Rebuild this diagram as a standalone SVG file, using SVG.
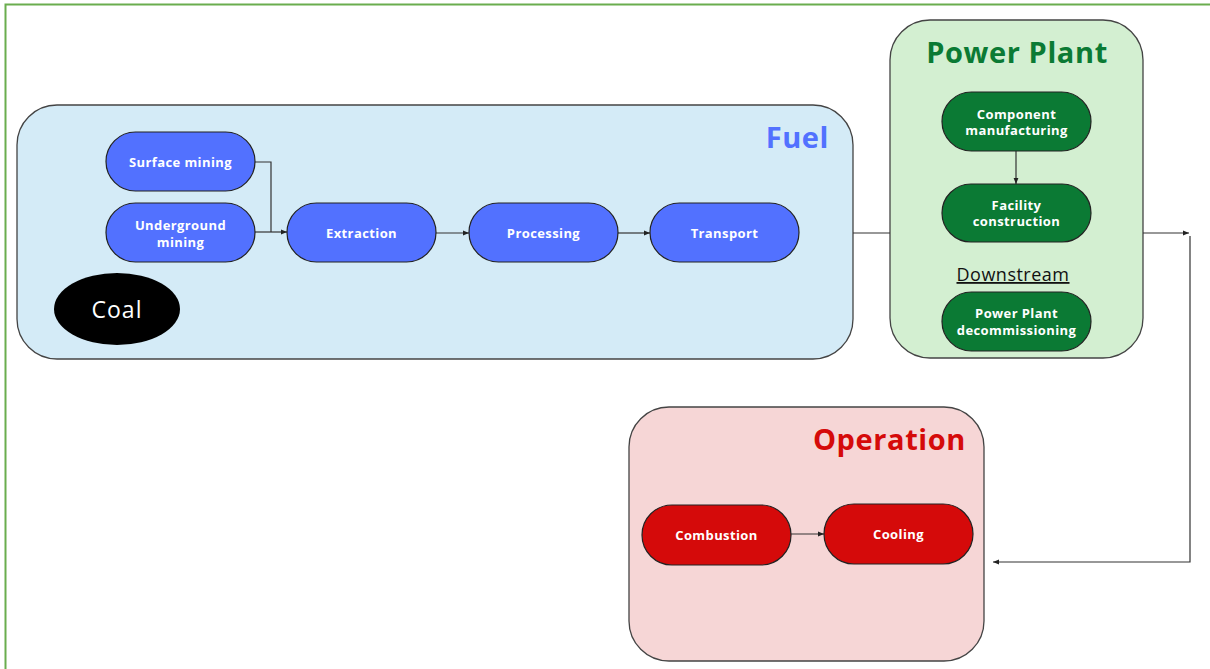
<svg xmlns="http://www.w3.org/2000/svg" width="1210" height="669" viewBox="0 0 1210 669">
<style>
.frame{fill:none;stroke:#6aad4f;stroke-width:2}
.cont{stroke:#444;stroke-width:1.3}
.node{stroke:#222;stroke-width:1.2}
.blue{fill:#5271ff}
.green{fill:#0b7a34}
.red{fill:#d50a0a}
.nt{font-family:"Open Sans","Liberation Sans",sans-serif;font-weight:700;font-size:13px;letter-spacing:0.4px;fill:#fff;text-anchor:middle}
.title{font-family:"Open Sans","Liberation Sans",sans-serif;font-weight:700;font-size:29px;letter-spacing:0.6px}
.conn{fill:none;stroke:#333;stroke-width:1.2}
</style>
<defs>
<marker id="ah" viewBox="0 0 10 10" refX="10" refY="5" markerWidth="6" markerHeight="6" orient="auto" markerUnits="userSpaceOnUse">
<path d="M0,1 L10,5 L0,9 z" fill="#222"/>
</marker>
</defs>
<rect class="frame" x="5.5" y="4.5" width="1230" height="700"/>

<g id="fuel-group">
<rect class="cont" x="17" y="105" width="836" height="254" rx="40" fill="#d4ebf7"/>
<text class="title" x="829" y="148" text-anchor="end" fill="#5271ff">Fuel</text>
</g>
<g id="power-plant-group">
<rect class="cont" x="890" y="20" width="253" height="338" rx="40" fill="#d3efd1"/>
<text class="title" x="1017" y="63" text-anchor="middle" fill="#0b7a34">Power Plant</text>
<text x="1013" y="281" text-anchor="middle" font-family="'Open Sans','Liberation Sans',sans-serif" font-size="18" letter-spacing="0.5" fill="#111" text-decoration="underline">Downstream</text>
</g>
<g id="operation-group">
<rect class="cont" x="629" y="407" width="355" height="254" rx="40" fill="#f6d6d6"/>
<text class="title" x="966" y="450" text-anchor="end" fill="#d50a0a">Operation</text>
</g>

<g id="connectors">
<polyline class="conn" points="255,162 271,162 271,232"/>
<line class="conn" x1="255" y1="232" x2="287" y2="232" marker-end="url(#ah)"/>
<line class="conn" x1="436" y1="233" x2="469" y2="233" marker-end="url(#ah)"/>
<line class="conn" x1="618" y1="233" x2="650" y2="233" marker-end="url(#ah)"/>
<line class="conn" x1="853" y1="233" x2="890" y2="233"/>
<line class="conn" x1="1016" y1="151" x2="1016" y2="184" marker-end="url(#ah)"/>
<line class="conn" x1="1143" y1="233" x2="1189" y2="233" marker-end="url(#ah)"/>
<polyline class="conn" points="1190,236 1190,562 993,562" marker-end="url(#ah)"/>
<line class="conn" x1="791" y1="534" x2="824" y2="534" marker-end="url(#ah)"/>
</g>

<g id="surface-mining">
<rect class="node blue" x="106" y="132" width="149" height="59" rx="29.5"/>
<text class="nt" x="180.5" y="166.5">Surface mining</text>
</g>
<g id="underground-mining">
<rect class="node blue" x="106" y="203" width="149" height="59" rx="29.5"/>
<text class="nt" x="180.5" y="229.5">Underground</text>
<text class="nt" x="180.5" y="246.5">mining</text>
</g>
<g id="extraction">
<rect class="node blue" x="287" y="203" width="149" height="59" rx="29.5"/>
<text class="nt" x="361.5" y="237.5">Extraction</text>
</g>
<g id="processing">
<rect class="node blue" x="469" y="203" width="149" height="59" rx="29.5"/>
<text class="nt" x="543.5" y="237.5">Processing</text>
</g>
<g id="transport">
<rect class="node blue" x="650" y="203" width="149" height="59" rx="29.5"/>
<text class="nt" x="724.5" y="237.5">Transport</text>
</g>
<g id="coal">
<ellipse cx="117" cy="309" rx="63" ry="36" fill="#000"/>
<text x="117" y="318" text-anchor="middle" font-family="'Open Sans','Liberation Sans',sans-serif" font-size="23" letter-spacing="1" fill="#fff">Coal</text>
</g>
<g id="component-manufacturing">
<rect class="node green" x="942" y="92" width="149" height="59" rx="29.5"/>
<text class="nt" x="1016.5" y="119">Component</text>
<text class="nt" x="1016.5" y="135">manufacturing</text>
</g>
<g id="facility-construction">
<rect class="node green" x="942" y="184" width="149" height="58" rx="29"/>
<text class="nt" x="1016.5" y="210">Facility</text>
<text class="nt" x="1016.5" y="226">construction</text>
</g>
<g id="decommissioning">
<rect class="node green" x="942" y="292" width="149" height="59" rx="29.5"/>
<text class="nt" x="1016.5" y="318">Power Plant</text>
<text class="nt" x="1016.5" y="335">decommissioning</text>
</g>
<g id="combustion">
<rect class="node red" x="642" y="505" width="149" height="60" rx="30"/>
<text class="nt" x="716.5" y="540">Combustion</text>
</g>
<g id="cooling">
<rect class="node red" x="824" y="504" width="149" height="60" rx="30"/>
<text class="nt" x="898.5" y="539">Cooling</text>
</g>
</svg>
